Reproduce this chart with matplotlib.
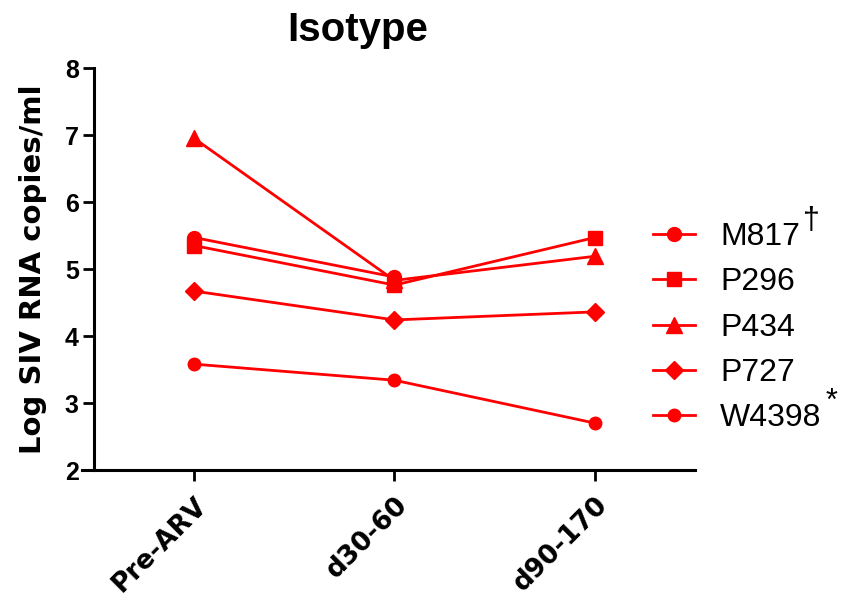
import numpy as np
import matplotlib
matplotlib.use("Agg")
import matplotlib.pyplot as plt

plt.rcParams['font.family'] = ['Liberation Sans', 'DejaVu Sans']

timepoints = ["Pre-ARV", "d30-60", "d90-170"]
animals = ["M817", "P296", "P434", "P727", "W4398"]
markers = ["o", "s", "^", "D", "o"]
msizes = [10, 10, 11, 9, 9]

m817 = [5.47, 4.88, np.nan]
p296 = [5.35, 4.76, 5.47]
p434 = [6.95, 4.83, 5.19]
p727 = [4.67, 4.24, 4.36]
w4398 = [3.58, 3.34, 2.70]
series = [m817, p296, p434, p727, w4398]

red = "#ff0000"

fig = plt.figure(figsize=(8.46, 5.96), dpi=100)
ax = fig.add_axes([0.1111, 0.2114, 0.7104, 0.6745])

x = np.arange(len(timepoints))
for name, vals, mk, ms in zip(animals, series, markers, msizes):
    ax.plot(x, vals, color=red, lw=2, marker=mk, ms=ms, label=name)

ax.set_xlim(-0.5, 2.5)
ax.set_ylim(2, 8)
ax.set_yticks(range(2, 9))
ax.set_xticks(x)
ax.set_xticklabels(timepoints, rotation=45, ha="right", rotation_mode="anchor",
                   family="DejaVu Sans", fontweight="bold", fontsize=19)
for lab in ax.get_yticklabels():
    lab.set_fontweight("bold")
    lab.set_fontsize(18)

for s in ["top", "right"]:
    ax.spines[s].set_visible(False)
for s in ["left", "bottom"]:
    ax.spines[s].set_linewidth(2.2)
ax.spines["bottom"].set_bounds(-0.56, 2.5)
ax.tick_params(axis="both", direction="out", width=2, length=8, pad=3)
ax.tick_params(axis="x", pad=8)

ax.set_ylabel("Log SIV RNA copies/ml", family="DejaVu Sans", fontweight="bold",
              fontsize=21, labelpad=13)

fig.text(0.423, 0.95, "Isotype", ha="center", va="center", fontsize=29,
         fontweight="bold")

leg = ax.legend(loc="center left", bbox_to_anchor=(0.772, 0.45),
                bbox_transform=fig.transFigure, frameon=False, fontsize=23,
                handlelength=1.3, handletextpad=0.8, labelspacing=0.48,
                borderaxespad=0, borderpad=0)

fig.text(811 / 846, 1 - 221 / 596, "†", ha="center", va="center", fontsize=22)
fig.text(831 / 846, 1 - 402 / 596, "*", ha="center", va="center", fontsize=22)

fig.savefig("out.png", dpi=100)
